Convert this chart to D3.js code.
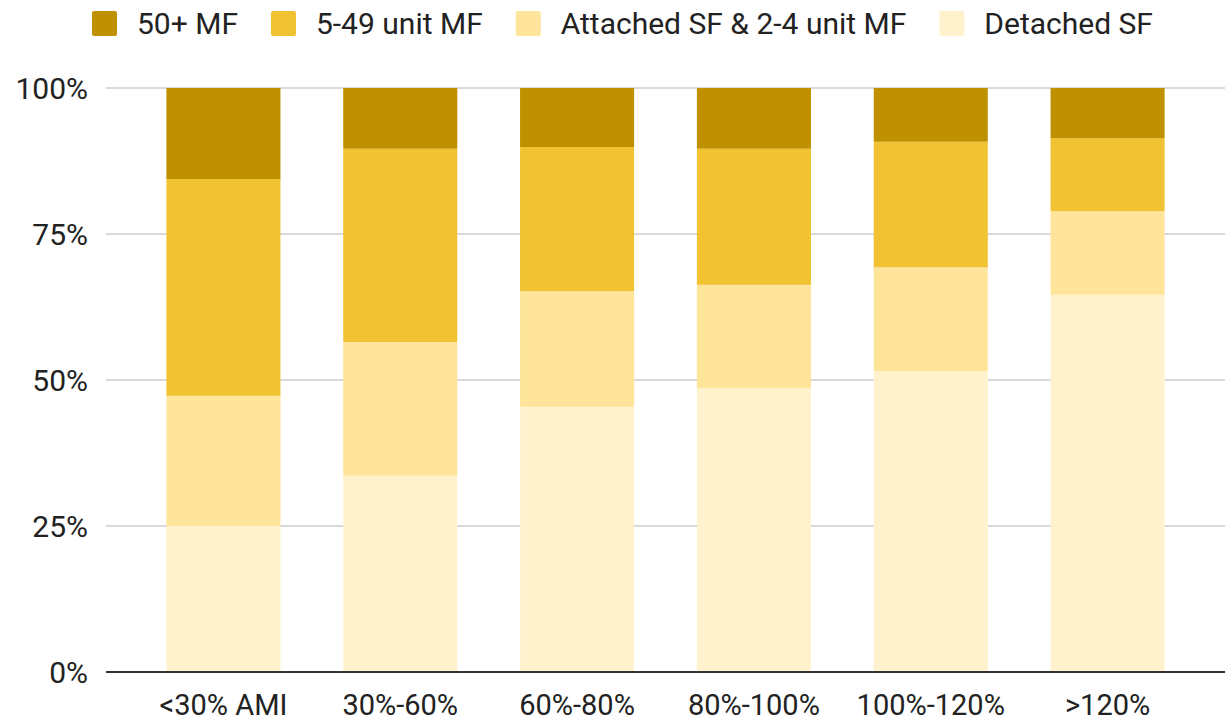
<!DOCTYPE html>
<html>
<head>
<meta charset="utf-8">
<script src="https://cdnjs.cloudflare.com/ajax/libs/d3/7.8.5/d3.min.js"></script>
<style>
  body { margin: 0; background: #fff; }
  text { font-family: Roboto, "Noto Sans", sans-serif; fill: #222; }
</style>
</head>
<body>
<div id="chart"></div>
<script>
let width = 1232, height = 721;

let categories = ["<30% AMI", "30%-60%", "60%-80%", "80%-100%", "100%-120%", ">120%"];
let seriesNames = ["Detached SF", "Attached SF & 2-4 unit MF", "5-49 unit MF", "50+ MF"];
let detachedSF = [25.0, 33.6, 45.4, 48.6, 51.5, 64.6];
let attachedSF = [22.3, 22.9, 19.8, 17.7, 17.8, 14.3];
let unit549MF = [37.1, 33.1, 24.7, 23.3, 21.5, 12.5];
let mf50plus = [15.6, 10.4, 10.1, 10.4, 9.2, 8.6];
let colors = ["#fff2cc", "#ffe599", "#f1c232", "#bf9000"];
let yTicks = [0, 25, 50, 75, 100];

let rows = categories.map((c, i) => ({
  cat: c,
  "Detached SF": detachedSF[i],
  "Attached SF & 2-4 unit MF": attachedSF[i],
  "5-49 unit MF": unit549MF[i],
  "50+ MF": mf50plus[i]
}));

let stack = d3.stack().keys(seriesNames)(rows);

let svg = d3.select("#chart")
.append("svg")
.attr("width", width)
.attr("height", height);

let x = d3.scaleBand()
.domain(categories)
.range([135, 1196])
.paddingInner(0.355)
.paddingOuter(0.1775);

let y = d3.scaleLinear()
.domain([0, 100])
.range([672, 88]);

let color = d3.scaleOrdinal().domain(seriesNames).range(colors);

// gridlines
svg.append("g")
.selectAll("line")
.data(yTicks.filter(d => d > 0))
.enter().append("line")
.attr("x1", 106)
.attr("x2", 1225)
.attr("y1", d => y(d))
.attr("y2", d => y(d))
.attr("stroke", "#cccccc")
.attr("stroke-width", 1.5);

// y labels
svg.append("g")
.selectAll("text")
.data(yTicks)
.enter().append("text")
.attr("x", 88)
.attr("y", d => y(d))
.attr("dy", "0.35em")
.attr("text-anchor", "end")
.style("font-size", "30px")
.text(d => d + "%");

// bars
svg.append("g")
.selectAll("g")
.data(stack)
.enter().append("g")
.attr("fill", d => color(d.key))
.selectAll("rect")
.data(d => d)
.enter().append("rect")
.attr("x", d => x(d.data.cat))
.attr("width", x.bandwidth())
.attr("y", d => y(d[1]))
.attr("height", d => y(d[0]) - y(d[1]));

// baseline
svg.append("line")
.attr("x1", 106)
.attr("x2", 1225)
.attr("y1", y(0))
.attr("y2", y(0))
.attr("stroke", "#333")
.attr("stroke-width", 2);

// x labels
svg.append("g")
.selectAll("text")
.data(categories)
.enter().append("text")
.attr("x", d => x(d) + x.bandwidth() / 2)
.attr("y", 715)
.attr("text-anchor", "middle")
.style("font-size", "29px")
.text(d => d);

// legend
let legendOrder = ["50+ MF", "5-49 unit MF", "Attached SF & 2-4 unit MF", "Detached SF"];
let legend = svg.append("g");
let lx = 92;
legendOrder.forEach(name => {
  let g = legend.append("g").attr("transform", "translate(" + lx + ",0)");
  g.append("rect")
  .attr("x", 0)
  .attr("y", 11)
  .attr("width", 25)
  .attr("height", 25)
  .attr("rx", 2)
  .attr("fill", color(name));
  let t = g.append("text")
  .attr("x", 45)
  .attr("y", 23)
  .attr("dy", "0.35em")
  .style("font-size", "30px")
  .text(name);
  lx += 45 + t.node().getComputedTextLength() + 33;
});
</script>
</body>
</html>
